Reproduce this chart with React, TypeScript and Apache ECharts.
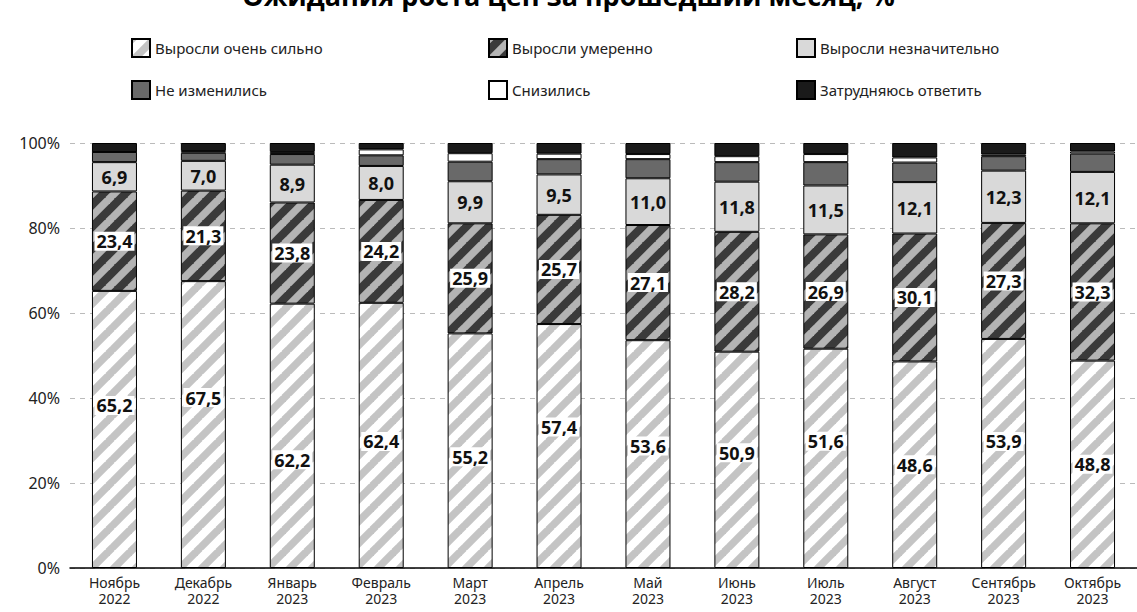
import React, { useEffect, useRef } from "react";
import * as echarts from "echarts";

const categories = [
  "Ноябрь\n2022", "Декабрь\n2022", "Январь\n2023", "Февраль\n2023", "Март\n2023", "Апрель\n2023",
  "Май\n2023", "Июнь\n2023", "Июль\n2023", "Август\n2023", "Сентябрь\n2023", "Октябрь\n2023",
];
const seriesNames = [
  "Выросли очень сильно",
  "Выросли умеренно",
  "Выросли незначительно",
  "Не изменились",
  "Снизились",
  "Затрудняюсь ответить",
];
const grewStrongly = [65.2, 67.5, 62.2, 62.4, 55.2, 57.4, 53.6, 50.9, 51.6, 48.6, 53.9, 48.8];
const grewModerately = [23.4, 21.3, 23.8, 24.2, 25.9, 25.7, 27.1, 28.2, 26.9, 30.1, 27.3, 32.3];
const grewSlightly = [6.9, 7.0, 8.9, 8.0, 9.9, 9.5, 11.0, 11.8, 11.5, 12.1, 12.3, 12.1];
const unchanged = [2.4, 1.9, 2.5, 2.5, 4.6, 3.6, 4.5, 4.6, 5.5, 4.6, 3.4, 4.3];
const decreased = [0.0, 0.4, 0.5, 1.4, 2.0, 1.3, 1.2, 1.4, 1.9, 1.2, 0.4, 0.5];
const hardToSay = [2.1, 1.9, 2.1, 1.5, 2.4, 2.5, 2.6, 3.1, 2.6, 3.4, 2.7, 2.0];
const yTicks = [0, 20, 40, 60, 80, 100];
const title = "Ожидания роста цен за прошедший месяц, %";

// label vertical shifts (px) for the bottom series, as placed in the reference
const strongLabelShift = [-24, -27, 24, 6, 6, -19, -8, -7, -17, 0, -12, 0];

function makeHatch(bg: string, stripe: string) {
  const size = 22;
  const c = document.createElement("canvas");
  c.width = size;
  c.height = size;
  const ctx = c.getContext("2d")!;
  ctx.fillStyle = bg;
  ctx.fillRect(0, 0, size, size);
  ctx.strokeStyle = stripe;
  ctx.lineWidth = 7.5;
  for (const o of [-size, 0, size]) {
    ctx.beginPath();
    ctx.moveTo(o - 2, size + 2);
    ctx.lineTo(o + size + 2, -2);
    ctx.stroke();
  }
  return { image: c, repeat: "repeat" } as any;
}

const fmt = (p: any) => {
  const v = typeof p.value === "number" ? p.value : p.value?.value ?? p.value;
  return Number(v).toFixed(1).replace(".", ",");
};

export default function App() {
  const ref = useRef<HTMLDivElement>(null);
  useEffect(() => {
    if (!ref.current) return;
    const chart = echarts.init(ref.current, undefined, { renderer: "svg" });
    const hatchLight = makeHatch("#ffffff", "#c4c4c4");
    const hatchDark = makeHatch("#3a3a3a", "#b4b4b4");
    const fills = [hatchLight, hatchDark, "#d9d9d9", "#696969", "#ffffff", "#1a1a1a"];
    const values = [grewStrongly, grewModerately, grewSlightly, unchanged, decreased, hardToSay];
    const labelFont = {
      fontFamily: "Open Sans",
      fontWeight: "bold" as const,
      fontSize: 18,
      color: "#111",
    };
    const series = values.map((vals, si) => {
      let data: any[] = vals;
      let label: any = { show: false };
      if (si === 0) {
        data = vals.map((v, i) => ({ value: v, label: { offset: [0, strongLabelShift[i]] } }));
        label = { show: true, position: "inside", formatter: fmt, backgroundColor: "#fff", padding: [1, 2, 0, 2], ...labelFont };
      } else if (si === 1) {
        label = { show: true, position: "inside", formatter: fmt, backgroundColor: "#fff", padding: [1, 2, 0, 2], ...labelFont };
      } else if (si === 2) {
        label = { show: true, position: "inside", formatter: fmt, ...labelFont };
      }
      return {
        name: seriesNames[si],
        type: "bar",
        stack: "total",
        barWidth: 45,
        data,
        label,
        itemStyle: { color: fills[si], borderColor: "#000", borderWidth: 1 },
        emphasis: { disabled: true },
      };
    });
    const legendCommon = {
      orient: "vertical",
      itemWidth: 18,
      itemHeight: 18,
      itemGap: 22,
      top: 38,
      padding: 0,
      icon: "rect",
      selectedMode: false,
      textStyle: { fontFamily: "Noto Sans", fontSize: 15, color: "#222" },
    };
    chart.setOption({
      animation: false,
      title: {
        text: title,
        left: "center",
        top: -23,
        textStyle: { fontFamily: "Open Sans", fontWeight: "bold", fontSize: 27, color: "#000" },
      },
      legend: [
        { ...legendCommon, left: 131, data: [seriesNames[0], seriesNames[3]] },
        { ...legendCommon, left: 488, data: [seriesNames[1], seriesNames[4]] },
        { ...legendCommon, left: 796, data: [seriesNames[2], seriesNames[5]] },
      ],
      grid: { left: 70, right: -3, top: 143, bottom: 44, containLabel: false },
      xAxis: {
        type: "category",
        data: categories,
        axisTick: { show: false },
        axisLine: { lineStyle: { color: "#000", width: 1.5 } },
        axisLabel: {
          interval: 0,
          fontFamily: "Noto Sans",
          fontSize: 14,
          lineHeight: 16,
          color: "#222",
          margin: 6,
        },
      },
      yAxis: {
        type: "value",
        min: yTicks[0],
        max: yTicks[yTicks.length - 1],
        interval: 20,
        axisLine: { show: false },
        axisTick: { show: false },
        splitLine: { lineStyle: { color: "#bbb", type: [5, 5], width: 1 } },
        axisLabel: {
          formatter: "{value}%",
          fontFamily: "Noto Sans",
          fontSize: 16,
          color: "#222",
          margin: 10,
        },
      },
      series,
    });
    return () => chart.dispose();
  }, []);
  return (
    <div
      ref={ref}
      style={{ position: "absolute", left: 0, top: 0, width: 1137, height: 612, background: "#fff" }}
    />
  );
}
